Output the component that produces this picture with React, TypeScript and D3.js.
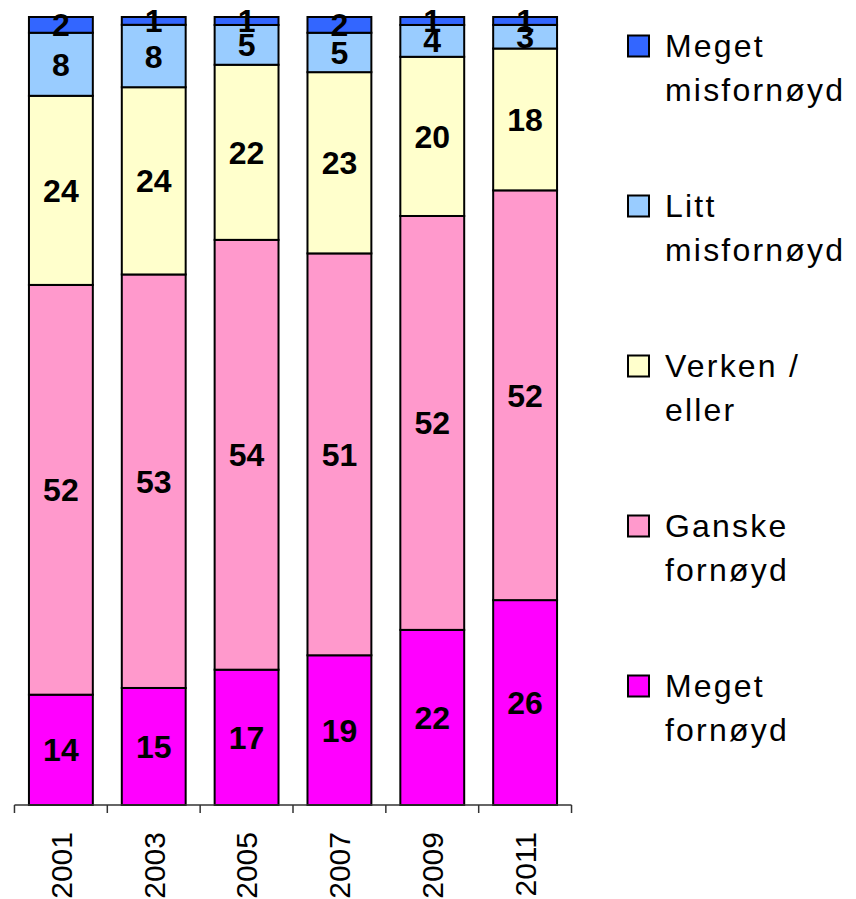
import React from 'react';
import * as d3 from 'd3';

const years = ['2001', '2003', '2005', '2007', '2009', '2011'];
const megetFornoyd = [14, 15, 17, 19, 22, 26];
const ganskeFornoyd = [52, 53, 54, 51, 52, 52];
const verkenEller = [24, 24, 22, 23, 20, 18];
const littMisfornoyd = [8, 8, 5, 5, 4, 3];
const megetMisfornoyd = [2, 1, 1, 2, 1, 1];

// bottom to top
const seriesKeys = ['megetFornoyd', 'ganskeFornoyd', 'verkenEller', 'littMisfornoyd', 'megetMisfornoyd'];
const seriesValues = [megetFornoyd, ganskeFornoyd, verkenEller, littMisfornoyd, megetMisfornoyd];
const seriesColors = ['#FF00FF', '#FF99CC', '#FFFFCC', '#99CCFF', '#3366FF'];
const legendLabels = [
  ['Meget', 'misfornøyd'],
  ['Litt', 'misfornøyd'],
  ['Verken /', 'eller'],
  ['Ganske', 'fornøyd'],
  ['Meget', 'fornøyd'],
];

const W = 856;
const H = 899;
const FONT = '"Liberation Sans", Arial, sans-serif';

const App = () => {
  const rows = years.map((year, i) => {
    const row: any = { year };
    seriesKeys.forEach((k, j) => (row[k] = seriesValues[j][i]));
    return row;
  });

  const stack = d3.stack().keys(seriesKeys).offset(d3.stackOffsetExpand);
  const layers = stack(rows);

  const x = d3.scaleBand().domain(years).range([14, 572]).paddingInner(0.312).paddingOuter(0.161);
  const y = d3.scaleLinear().domain([0, 1]).range([805, 17]);

  const gap = x.step() - x.bandwidth();
  const boundaries = years.map((yr) => (x(yr) as number) - gap / 2);
  boundaries.push((x(years[years.length - 1]) as number) + x.bandwidth() + gap / 2);

  // legend lists top series first
  const legendOrder = [4, 3, 2, 1, 0];

  return (
    <svg
      width={W}
      height={H}
      style={{ position: 'absolute', left: 0, top: 0, background: '#fff' }}
      fontFamily={FONT}
    >
      {layers.map((layer, li) => (
        <g key={layer.key}>
          {layer.map((d: any, i) => (
            <rect
              key={years[i]}
              x={x(years[i])}
              y={y(d[1])}
              width={x.bandwidth()}
              height={y(d[0]) - y(d[1])}
              fill={seriesColors[li]}
              stroke="#000"
              strokeWidth={2}
            />
          ))}
        </g>
      ))}

      {layers.map((layer, li) => (
        <g key={'lab' + layer.key}>
          {layer.map((d: any, i) => (
            <text
              key={years[i]}
              x={(x(years[i]) as number) + x.bandwidth() / 2}
              y={(y(d[0]) + y(d[1])) / 2}
              dy="0.36em"
              textAnchor="middle"
              fontSize={32}
              fontWeight="bold"
              fill="#000"
            >
              {seriesValues[li][i]}
            </text>
          ))}
        </g>
      ))}

      <g>
        <line x1={boundaries[0]} x2={boundaries[boundaries.length - 1]} y1={y(0)} y2={y(0)} stroke="#333" strokeWidth={1.5} />
        {boundaries.map((b, i) => (
          <line key={i} x1={b} x2={b} y1={y(0)} y2={y(0) + 8} stroke="#333" strokeWidth={1.5} />
        ))}
        {years.map((yr) => {
          const cx = (x(yr) as number) + x.bandwidth() / 2;
          const ty = 832;
          return (
            <text
              key={yr}
              transform={`translate(${cx},${ty}) rotate(-90)`}
              dy="0.36em"
              textAnchor="end"
              fontSize={30}
              fill="#000"
            >
              {yr}
            </text>
          );
        })}
      </g>

      <g>
        {legendOrder.map((si, i) => {
          const cy = 46 + i * 160;
          return (
            <g key={si}>
              <rect x={628} y={cy - 10.5} width={21} height={21} fill={seriesColors[si]} stroke="#000" strokeWidth={2} />
              <text x={665} y={cy + 11} fontSize={32} letterSpacing={2.2} fill="#000">
                {legendLabels[i][0]}
              </text>
              <text x={665} y={cy + 55} fontSize={32} letterSpacing={2.2} fill="#000">
                {legendLabels[i][1]}
              </text>
            </g>
          );
        })}
      </g>
    </svg>
  );
};

export default App;
